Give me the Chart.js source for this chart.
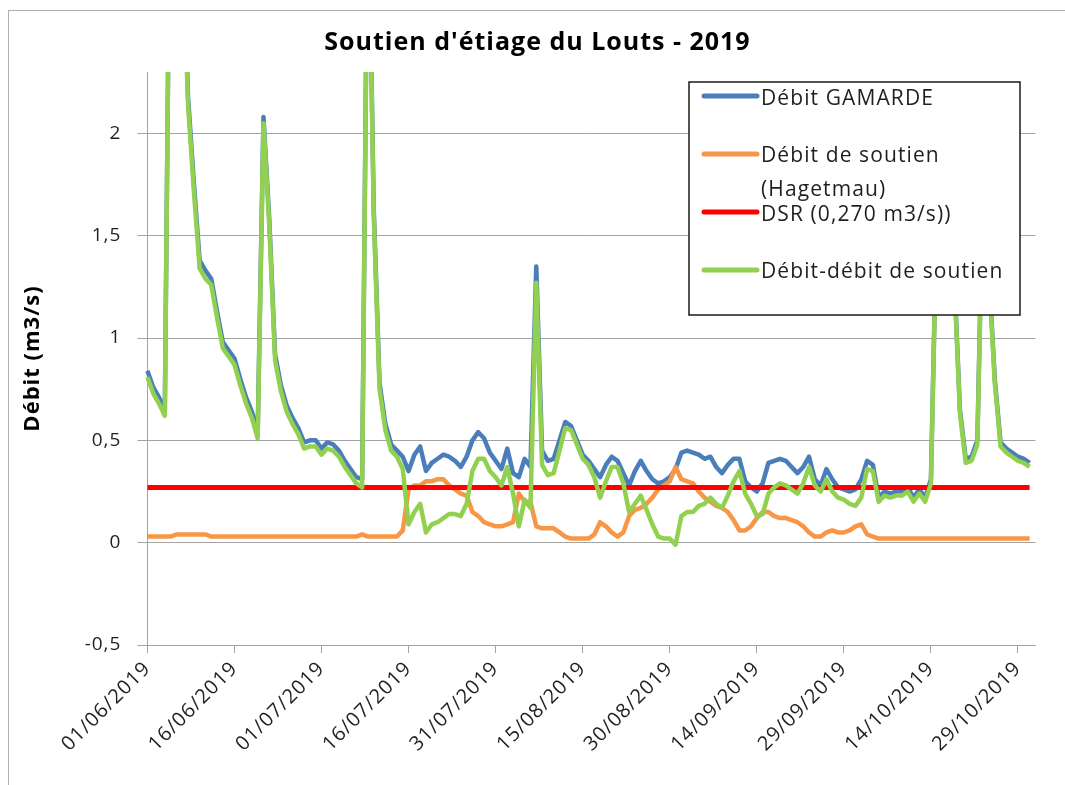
<!DOCTYPE html>
<html lang="fr">
<head>
<meta charset="utf-8">
<title>Soutien d'étiage du Louts - 2019</title>
<script src="https://cdn.jsdelivr.net/npm/chart.js@4.4.1/dist/chart.umd.min.js"></script>
<style>
  html, body { margin: 0; padding: 0; background: #fff; }
</style>
</head>
<body>
<canvas id="myChart" width="1065" height="785"></canvas>
<script>
// débits journaliers, du 01/06/2019 au 31/10/2019 (m3/s)
const debitGamarde = [
  0.84, 0.76, 0.71, 0.65, 3.63, 4.04, 3.04, 2.18, 1.76, 1.38,
  1.33, 1.29, 1.13, 0.98, 0.94, 0.90, 0.80, 0.71, 0.64, 0.54,
  2.08, 1.58, 0.92, 0.77, 0.67, 0.61, 0.56, 0.49, 0.50, 0.50,
  0.46, 0.49, 0.48, 0.45, 0.40, 0.36, 0.32, 0.31, 3.33, 1.63,
  0.78, 0.58, 0.48, 0.45, 0.42, 0.35, 0.43, 0.47, 0.35, 0.39,
  0.41, 0.43, 0.42, 0.40, 0.37, 0.42, 0.50, 0.54, 0.51, 0.44,
  0.40, 0.36, 0.46, 0.34, 0.32, 0.41, 0.37, 1.35, 0.45, 0.40,
  0.41, 0.50, 0.59, 0.57, 0.50, 0.43, 0.40, 0.36, 0.32, 0.38,
  0.42, 0.40, 0.34, 0.28, 0.35, 0.40, 0.35, 0.31, 0.29, 0.30,
  0.32, 0.36, 0.44, 0.45, 0.44, 0.43, 0.41, 0.42, 0.37, 0.34,
  0.38, 0.41, 0.41, 0.30, 0.27, 0.25, 0.29, 0.39, 0.40, 0.41,
  0.40, 0.37, 0.34, 0.37, 0.42, 0.31, 0.28, 0.36, 0.31, 0.27,
  0.26, 0.25, 0.26, 0.31, 0.40, 0.38, 0.22, 0.25, 0.24, 0.25,
  0.25, 0.27, 0.22, 0.26, 0.22, 0.31, 1.62, 1.82, 1.52, 1.32,
  0.65, 0.41, 0.42, 0.50, 1.82, 1.32, 0.80, 0.49, 0.46, 0.44,
  0.42, 0.41, 0.39
];
const debitSoutien = [
  0.03, 0.03, 0.03, 0.03, 0.03, 0.04, 0.04, 0.04, 0.04, 0.04,
  0.04, 0.03, 0.03, 0.03, 0.03, 0.03, 0.03, 0.03, 0.03, 0.03,
  0.03, 0.03, 0.03, 0.03, 0.03, 0.03, 0.03, 0.03, 0.03, 0.03,
  0.03, 0.03, 0.03, 0.03, 0.03, 0.03, 0.03, 0.04, 0.03, 0.03,
  0.03, 0.03, 0.03, 0.03, 0.06, 0.26, 0.28, 0.28, 0.30, 0.30,
  0.31, 0.31, 0.28, 0.26, 0.24, 0.23, 0.15, 0.13, 0.10, 0.09,
  0.08, 0.08, 0.09, 0.10, 0.24, 0.20, 0.20, 0.08, 0.07, 0.07,
  0.07, 0.05, 0.03, 0.02, 0.02, 0.02, 0.02, 0.04, 0.10, 0.08,
  0.05, 0.03, 0.05, 0.13, 0.16, 0.17, 0.19, 0.22, 0.26, 0.28,
  0.30, 0.37, 0.31, 0.30, 0.29, 0.25, 0.22, 0.20, 0.18, 0.17,
  0.15, 0.11, 0.06, 0.06, 0.08, 0.12, 0.15, 0.15, 0.13, 0.12,
  0.12, 0.11, 0.10, 0.08, 0.05, 0.03, 0.03, 0.05, 0.06, 0.05,
  0.05, 0.06, 0.08, 0.09, 0.04, 0.03, 0.02, 0.02, 0.02, 0.02,
  0.02, 0.02, 0.02, 0.02, 0.02, 0.02, 0.02, 0.02, 0.02, 0.02,
  0.02, 0.02, 0.02, 0.02, 0.02, 0.02, 0.02, 0.02, 0.02, 0.02,
  0.02, 0.02, 0.02
];
// débit naturel reconstitué (GAMARDE moins le soutien)
const debitNet = [
  0.81, 0.73, 0.68, 0.62, 3.60, 4.00, 3.00, 2.14, 1.72, 1.34,
  1.29, 1.26, 1.10, 0.95, 0.91, 0.87, 0.77, 0.68, 0.61, 0.51,
  2.05, 1.55, 0.89, 0.74, 0.64, 0.58, 0.53, 0.46, 0.47, 0.47,
  0.43, 0.46, 0.45, 0.42, 0.37, 0.33, 0.29, 0.27, 3.30, 1.60,
  0.75, 0.55, 0.45, 0.42, 0.36, 0.09, 0.15, 0.19, 0.05, 0.09,
  0.10, 0.12, 0.14, 0.14, 0.13, 0.19, 0.35, 0.41, 0.41, 0.35,
  0.32, 0.28, 0.37, 0.24, 0.08, 0.21, 0.17, 1.27, 0.38, 0.33,
  0.34, 0.45, 0.56, 0.55, 0.48, 0.41, 0.38, 0.32, 0.22, 0.30,
  0.37, 0.37, 0.29, 0.15, 0.19, 0.23, 0.16, 0.09, 0.03, 0.02,
  0.02, -0.01, 0.13, 0.15, 0.15, 0.18, 0.19, 0.22, 0.19, 0.17,
  0.23, 0.30, 0.35, 0.24, 0.19, 0.13, 0.14, 0.24, 0.27, 0.29,
  0.28, 0.26, 0.24, 0.29, 0.37, 0.28, 0.25, 0.31, 0.25, 0.22,
  0.21, 0.19, 0.18, 0.22, 0.36, 0.35, 0.20, 0.23, 0.22, 0.23,
  0.23, 0.25, 0.20, 0.24, 0.20, 0.29, 1.60, 1.80, 1.50, 1.30,
  0.63, 0.39, 0.40, 0.48, 1.80, 1.30, 0.78, 0.47, 0.44, 0.42,
  0.40, 0.39, 0.37
];
const dsr = 0.27; // débit seuil de référence
const yTicks = [-0.5, 0, 0.5, 1, 1.5, 2];
const yMin = -0.5, yMax = 2.3;
const tickStep = 15; // une date tous les 15 jours

// axe des dates : 01/06/2019 -> 01/11/2019
const startDate = Date.UTC(2019, 5, 1);
const nbJours = 154;
const dates = [];
for (let i = 0; i < nbJours; i++) {
  const d = new Date(startDate + i * 86400000);
  dates.push(String(d.getUTCDate()).padStart(2, '0') + '/' +
    String(d.getUTCMonth() + 1).padStart(2, '0') + '/' + d.getUTCFullYear());
}
const seuil = debitGamarde.map(() => dsr);

const FONT = '"Open Sans", Lato, sans-serif';
const TXT = '#1f1f1f';
const GRID = '#a3a3a3';

// fond blanc + cadre du graphique, texte un peu espacé
const frame = {
  id: 'frame',
  beforeDraw(chart) {
    const ctx = chart.ctx;
    ctx.save();
    ctx.fillStyle = '#fff';
    ctx.fillRect(0, 0, chart.width, chart.height);
    ctx.strokeStyle = '#b0b0b0';
    ctx.lineWidth = 1;
    ctx.strokeRect(8.5, 10.5, 1200, 900);
    ctx.restore();
    ctx.letterSpacing = '1px';
  }
};

// légende encadrée posée par-dessus les courbes
const legendBox = {
  id: 'legendBox',
  afterDatasetsDraw(chart) {
    const ctx = chart.ctx;
    const rows = [
      { lineY: 96, text: ['Débit GAMARDE'], textY: 105 },
      { lineY: 154, text: ['Débit de soutien', '(Hagetmau)'], textY: 162 },
      { lineY: 212, text: ['DSR (0,270 m3/s))'], textY: 221 },
      { lineY: 270, text: ['Débit-débit de soutien'], textY: 278 }
    ];
    ctx.save();
    ctx.fillStyle = '#fff';
    ctx.fillRect(689, 82, 331, 233);
    ctx.strokeStyle = '#1a1a1a';
    ctx.lineWidth = 1.5;
    ctx.strokeRect(689, 82, 331, 233);
    ctx.font = '21px ' + FONT;
    ctx.letterSpacing = '1.1px';
    ctx.textBaseline = 'alphabetic';
    ctx.textAlign = 'left';
    rows.forEach((r, i) => {
      const ds = chart.data.datasets[i];
      ctx.strokeStyle = ds.borderColor;
      ctx.lineWidth = 5;
      ctx.lineCap = 'round';
      ctx.beginPath();
      ctx.moveTo(704, r.lineY);
      ctx.lineTo(757, r.lineY);
      ctx.stroke();
      ctx.fillStyle = TXT;
      r.text.forEach((t, k) => ctx.fillText(t, 761, r.textY + k * 34));
    });
    ctx.restore();
  }
};

const serie = (label, data, color, width, order) => ({
  label, data,
  borderColor: color,
  backgroundColor: color,
  borderWidth: width,
  pointRadius: 0,
  tension: 0,
  fill: false,
  borderJoinStyle: 'round',
  order
});

new Chart(document.getElementById('myChart'), {
  type: 'line',
  data: {
    labels: dates,
    datasets: [
      serie('Débit GAMARDE', debitGamarde, '#4a7ebb', 4.5, 4),
      serie('Débit de soutien (Hagetmau)', debitSoutien, '#f79646', 4.5, 3),
      serie('DSR (0,270 m3/s))', seuil, '#ff0000', 5, 2),
      serie('Débit-débit de soutien', debitNet, '#92d050', 4.5, 1)
    ]
  },
  options: {
    responsive: false,
    animation: false,
    devicePixelRatio: 1,
    layout: { padding: { left: 10, right: 0, top: 0, bottom: 0 } },
    plugins: {
      legend: { display: false },
      tooltip: { enabled: false },
      title: {
        display: true,
        text: "Soutien d'étiage du Louts - 2019",
        color: '#000',
        font: { family: FONT, size: 25, weight: 'bold' },
        padding: { top: 28, bottom: 14 }
      }
    },
    scales: {
      x: {
        type: 'category',
        offset: false,
        afterBuildTicks(scale) {
          scale.ticks = scale.ticks.filter(t => t.value % tickStep === 0);
        },
        afterFit(scale) { scale.height = 140; },
        grid: { drawOnChartArea: false, drawTicks: true, tickLength: 8, color: GRID },
        border: { display: true, color: GRID, width: 1 },
        ticks: {
          autoSkip: false,
          minRotation: 45,
          maxRotation: 45,
          padding: 4,
          color: TXT,
          font: { family: FONT, size: 20 }
        }
      },
      y: {
        min: yMin,
        max: yMax,
        afterBuildTicks(scale) {
          scale.ticks = yTicks.map(v => ({ value: v }));
        },
        afterFit(scale) { scale.width = 137.4; },
        grid: { color: GRID, lineWidth: 1, tickLength: 10 },
        border: { display: true, color: GRID, width: 1 },
        ticks: {
          padding: 16,
          color: TXT,
          font: { family: FONT, size: 19 },
          callback: v => String(v).replace('.', ',')
        },
        title: {
          display: true,
          text: 'Débit (m3/s)',
          color: '#000',
          font: { family: FONT, size: 22, weight: 'bold' },
          padding: { top: 9.8, bottom: 0 }
        }
      },
      // marge droite du tracé
      yDroite: {
        position: 'right',
        afterFit(scale) { scale.width = 29.6; },
        grid: { display: false },
        border: { display: false },
        ticks: { display: false }
      }
    }
  },
  plugins: [frame, legendBox]
});
</script>
</body>
</html>
